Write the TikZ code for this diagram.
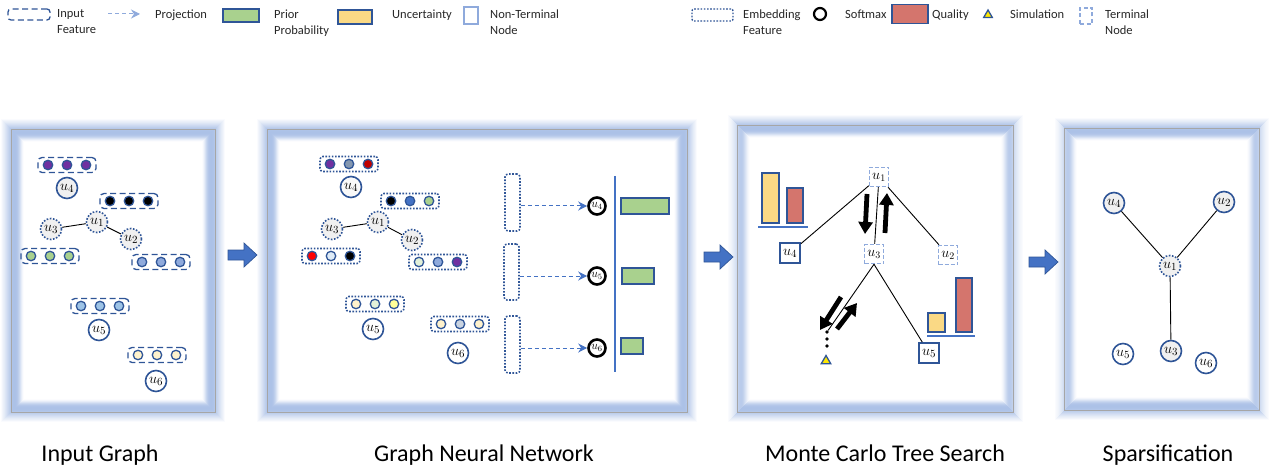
\documentclass[tikz,border=0pt]{standalone}
\usepackage[no-math]{fontspec}
\setmainfont{Carlito}
\usetikzlibrary{arrows.meta,shapes.geometric,calc}
\definecolor{dblue}{HTML}{2F5597}
\definecolor{mblue}{HTML}{4472C4}
\definecolor{lblue}{HTML}{8FAADC}
\definecolor{glowc}{HTML}{A9BFE6}
\definecolor{pgreen}{HTML}{A9D18E}
\definecolor{pyellow}{HTML}{FAD985}
\definecolor{pred}{HTML}{D4756D}
\definecolor{purp}{HTML}{7030A0}
\definecolor{cblue}{HTML}{8FAADC}
\definecolor{ccyan}{HTML}{9DC3E6}
\definecolor{ccream}{HTML}{FFF2CC}
\definecolor{cgreenl}{HTML}{E2F0D9}
\definecolor{cgray}{HTML}{8497B0}
\definecolor{cdred}{HTML}{C00000}
\definecolor{cyel}{HTML}{FFFF99}
\definecolor{cwb}{HTML}{DEEBF7}
\definecolor{cgb}{HTML}{C9D3E0}
\newcommand{\glowpanel}[4]{%
  \foreach \o/\op in {-9/0.06,-8/0.1,-7/0.14,-6/0.19,-5/0.25,-4/0.31,-3/0.38,-2/0.46,-1/0.55,0/0.64,1/0.72,2/0.78,3/0.82,4/0.82,5/0.78,6/0.7,7/0.58,8/0.45,9/0.32,10/0.2,11/0.1,12/0.04}
    {\draw[glowc, opacity=\op, line width=1.02pt] ({#1+\o},{#2+\o}) rectangle ({#3-\o},{#4-\o});}
  \draw[gray!70, line width=0.9pt] (#1,#2) rectangle (#3,#4);}
\newcommand{\featrow}[7]{%
  \node[#4] (#1) at (#2,#3) {};
  \node[fdot, fill=#5] (#1-1) at ($(#1)+(-19,0)$) {};
  \node[fdot, fill=#6] (#1-2) at (#1) {};
  \node[fdot, fill=#7] (#1-3) at ($(#1)+(19,0)$) {};}
\newcommand{\blockarrow}[2]{%
  \filldraw[fill=mblue, draw=dblue, line width=0.7pt] (#1,{#2-5}) -- ({#1+16},{#2-5}) -- ({#1+16},{#2-12}) -- ({#1+29},#2) -- ({#1+16},{#2+12}) -- ({#1+16},{#2+5}) -- (#1,{#2+5}) -- cycle;}
\begin{document}
\begin{tikzpicture}[x=1pt,y=-1pt,
  feat/.style={rectangle, rounded corners=4pt, draw=dblue, line width=1.3pt, dash pattern=on 6pt off 3.5pt, minimum width=58pt, minimum height=15pt, inner sep=0pt},
  embf/.style={rectangle, rounded corners=3pt, draw=dblue, line width=1.6pt, dash pattern=on 1.6pt off 1.6pt, minimum width=58pt, minimum height=15pt, inner sep=0pt},
  embv/.style={rectangle, rounded corners=3pt, draw=dblue, line width=1.6pt, dash pattern=on 1.6pt off 1.6pt, minimum width=15pt, minimum height=57pt, inner sep=0pt},
  fdot/.style={circle, draw=dblue, line width=1.3pt, minimum size=9.5pt, inner sep=0pt},
  gnode/.style={circle, draw=dblue, line width=1.6pt, minimum size=21pt, inner sep=0pt, fill=gray!12, font=\fontsize{15.5}{15.5}\selectfont},
  gdot/.style={gnode, dash pattern=on 1.6pt off 1.6pt},
  wnode/.style={gnode, fill=white},
  smax/.style={circle, draw=black, line width=2.6pt, minimum size=17pt, inner sep=0pt, font=\fontsize{11.5}{11.5}\selectfont},
  bar/.style={rectangle, draw=dblue, line width=1.6pt, inner sep=0pt},
  sqs/.style={rectangle, draw=dblue, line width=1.8pt, minimum size=20pt, inner sep=0pt, fill=white, font=\fontsize{15.5}{15.5}\selectfont},
  sqd/.style={rectangle, draw=lblue, line width=1.5pt, dash pattern=on 4pt off 2pt, minimum size=19pt, inner sep=0pt, fill=white, font=\fontsize{14.5}{14.5}\selectfont},
  edge/.style={draw=black, line width=0.9pt},
  proj/.style={draw=mblue, line width=1pt, dash pattern=on 4pt off 3pt, -{Stealth[length=9pt,width=9pt]}},
  barrow/.style={line width=4.8pt, -{Triangle[length=12pt,width=14pt]}},
  lt/.style={anchor=north west, align=left, inner sep=0pt, font=\fontsize{12.5}{16}\selectfont, text=black!85},
  title/.style={anchor=base, inner sep=0pt, font=\fontsize{24}{24}\selectfont},
  simtri/.style={regular polygon, regular polygon sides=3, minimum size=11pt, inner sep=0pt, fill=yellow!90!orange, draw=dblue, line width=1.3pt}
]
\useasboundingbox (0,0) rectangle (1271,465);

% ---------------- Legend ----------------
\node[feat, minimum width=42pt, minimum height=11pt, rounded corners=3pt] (lg1) at (29,14.5) {};
\node[lt] (lt1) at (57,9.5) {Input\\Feature};
\coordinate (lp1) at (108,14);
\coordinate (lp2) at (140,14);
\draw[proj, draw=lblue] (lp1) -- (lp2);
\node[lt] (lt2) at (155,9.5) {Projection};
\node[bar, fill=pgreen, minimum width=36pt, minimum height=13pt] (lg3) at (241,15.5) {};
\node[lt] (lt3) at (274,9.5) {Prior\\Probability};
\node[bar, fill=pyellow, minimum width=34pt, minimum height=14pt] (lg4) at (355,17) {};
\node[lt] (lt4) at (392,9.5) {Uncertainty};
\node[rectangle, draw=lblue, line width=1.3pt, minimum width=14pt, minimum height=17pt, inner sep=0pt] (lg5) at (471,15.5) {};
\node[lt] (lt5) at (490,9.5) {Non-Terminal\\Node};
\node[embf, minimum width=41pt, minimum height=12pt, rounded corners=2pt, line width=1.4pt] (lg6) at (712.5,15) {};
\node[lt] (lt6) at (743,9.5) {Embedding\\Feature};
\node[circle, draw=black, line width=2.2pt, minimum size=12pt, inner sep=0pt] (lg7) at (820,14) {};
\node[lt] (lt7) at (845,9.5) {Softmax};
\node[bar, fill=pred, minimum width=36pt, minimum height=19pt] (lg8) at (910,14) {};
\node[lt] (lt8) at (932,9.5) {Quality};
\node[simtri, minimum size=10pt] (lg9) at (988,15) {};
\node[lt] (lt9) at (1010,9.5) {Simulation};
\node[rectangle, draw=lblue, line width=1.3pt, dash pattern=on 4pt off 2.5pt, minimum width=12pt, minimum height=16pt, inner sep=0pt] (lg10) at (1086,16) {};
\node[lt] (lt10) at (1105,9.5) {Terminal\\Node};

% ---------------- Panels ----------------
\glowpanel{11}{129}{215}{412}
\glowpanel{267}{129}{687}{412}
\glowpanel{737}{125}{1013}{412}
\glowpanel{1064}{128}{1259}{410}

\blockarrow{228}{255}
\blockarrow{704}{257}
\blockarrow{1029}{262}

% ---------------- Panel 1: Input Graph ----------------
\featrow{fa}{67}{165}{feat}{purp}{purp}{purp}
\node[gnode] (a4) at (67,188) {$u_4$};
\featrow{fb}{129}{201}{feat}{black}{black}{black}
\node[gdot] (a1) at (97,222) {$u_1$};
\node[gdot] (a3) at (51,229) {$u_3$};
\node[gdot] (a2) at (131,239) {$u_2$};
\draw[edge] (a3) -- (a1);
\draw[edge] (a1) -- (a2);
\featrow{fc}{50}{256}{feat}{pgreen}{pgreen}{pgreen}
\featrow{fd}{161}{262}{feat}{cblue}{cblue}{cblue}
\featrow{fe}{100}{306}{feat}{ccyan}{ccyan}{ccyan}
\node[wnode] (a5) at (99,330) {$u_5$};
\featrow{ff}{157}{355}{feat}{ccream}{ccream}{ccream}
\node[wnode] (a6) at (156,381) {$u_6$};

% ---------------- Panel 2: GNN ----------------
\featrow{ga}{349}{164}{embf}{purp}{cgray}{cdred}
\node[wnode, fill=gray!5] (b4) at (351,187) {$u_4$};
\featrow{gb}{410}{201}{embf}{black}{mblue}{pgreen}
\node[gdot] (b1) at (378,222) {$u_1$};
\node[gdot] (b3) at (332,229) {$u_3$};
\node[gdot] (b2) at (412,240) {$u_2$};
\draw[edge] (b3) -- (b1);
\draw[edge] (b1) -- (b2);
\featrow{gc}{331}{256}{embf}{red}{cwb}{black}
\featrow{gd}{438}{262}{embf}{cgreenl}{cblue}{purp}
\featrow{ge}{375}{304}{embf}{ccream}{cgreenl}{cyel}
\node[wnode] (b5) at (373,329) {$u_5$};
\featrow{gf}{460}{324}{embf}{ccream}{cgb}{ccream}
\node[wnode] (b6) at (458,353) {$u_6$};

\node[embv] (e1) at (512.5,202.5) {};
\node[embv, minimum height=56pt] (e2) at (511.5,272) {};
\node[embv] (e3) at (512.5,344.5) {};
\node[smax] (s4) at (597,206) {$u_4$};
\node[smax] (s5) at (597,276) {$u_5$};
\node[smax] (s6) at (597,348) {$u_6$};
\draw[proj] (e1.east |- s4.west) -- (s4.west);
\draw[proj] (e2.east |- s5.west) -- (s5.west);
\draw[proj] (e3.east |- s6.west) -- (s6.west);
\draw[mblue, line width=1.1pt] (615,176) -- (615,372);
\node[bar, fill=pgreen, minimum width=48pt, minimum height=16pt] (p4) at (645,206) {};
\node[bar, fill=pgreen, minimum width=32pt, minimum height=16pt] (p5) at (638,276) {};
\node[bar, fill=pgreen, minimum width=22pt, minimum height=16pt] (p6) at (632,346) {};

% ---------------- Panel 3: MCTS ----------------
\node[sqd] (t1) at (879,177) {$u_1$};
\node[sqs] (t4) at (790,253) {$u_4$};
\node[sqd] (t3) at (874,254) {$u_3$};
\node[sqd] (t2) at (948,255) {$u_2$};
\node[sqs] (t5) at (929,353) {$u_5$};
\node[circle, fill=black, inner sep=0pt, minimum size=3.6pt] (d1) at (827,332) {};
\node[circle, fill=black, inner sep=0pt, minimum size=3.6pt] (d2) at (827,339) {};
\node[circle, fill=black, inner sep=0pt, minimum size=3.6pt] (d3) at (827,346) {};
\node[simtri] (tri) at (826,361) {};
\draw[edge] (t1) -- (t4);
\draw[edge] (t1) -- (t3);
\draw[edge] (t1) -- (t2);
\draw[edge] (t3.south) -- (t5);
\draw[edge] (t3.south) -- (d1);
% bars
\draw[bar, fill=pyellow] (762,173) rectangle (779,223);
\draw[bar, fill=pred] (787,188) rectangle (803,223);
\draw[mblue, line width=1.1pt] (758,227) -- (808,227);
\draw[bar, fill=pyellow] (928,313) rectangle (945,332);
\draw[bar, fill=pred] (956,278) rectangle (972,332);
\draw[mblue, line width=1.1pt] (927,336) -- (975,336);
% block arrows
\coordinate (ka1) at (867,194);
\coordinate (kb1) at (865,234);
\coordinate (ka2) at (885,233);
\coordinate (kb2) at (887,193);
\coordinate (ka3) at (841,297);
\coordinate (kb3) at (820,330);
\coordinate (ka4) at (837,329);
\coordinate (kb4) at (857,303);
\draw[barrow] (ka1) -- (kb1);
\draw[barrow] (ka2) -- (kb2);
\draw[barrow] (ka3) -- (kb3);
\draw[barrow] (ka4) -- (kb4);

% ---------------- Panel 4: Sparsification ----------------
\node[gnode] (c4) at (1114,203) {$u_4$};
\node[gnode] (c2) at (1224,202) {$u_2$};
\node[gdot] (c1) at (1170,266) {$u_1$};
\node[gnode] (c3) at (1171,351) {$u_3$};
\node[wnode] (c5) at (1123,354) {$u_5$};
\node[wnode] (c6) at (1206,363) {$u_6$};
\draw[edge] (c4) -- (c1);
\draw[edge] (c2) -- (c1);
\draw[edge] (c1) -- (c3);

% ---------------- Titles ----------------
\node[title] (n1) at (100,461) {Input Graph};
\node[title] (n2) at (484,461) {Graph Neural Network};
\node[title] (n3) at (885,461) {Monte Carlo Tree Search};
\node[title] (n4) at (1168,461) {Sparsification};
\end{tikzpicture}
\end{document}
